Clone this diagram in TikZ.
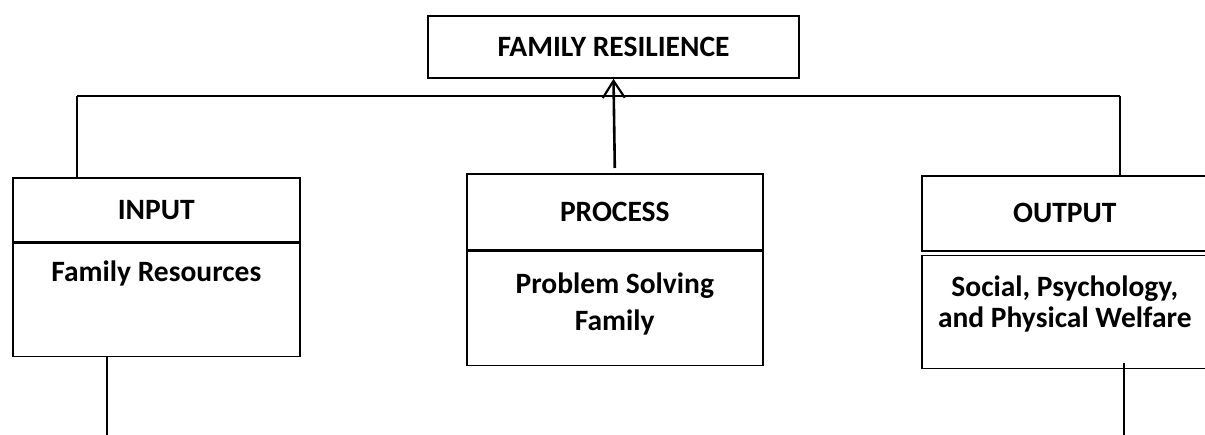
\documentclass[tikz,border=0pt]{standalone}
\usepackage{fontspec}
\setmainfont{Carlito}
\usetikzlibrary{arrows.meta,positioning,calc}
\tikzset{
  boxfont/.style={font=\bfseries\fontsize{29.5}{31}\selectfont},
  topbox/.style={draw, line width=1.6pt, boxfont, minimum width=371pt, minimum height=62pt},
  headbox/.style={draw, line width=1.6pt, boxfont, anchor=north west},
  bodybox/.style={draw, line width=1.6pt, anchor=north, minimum height=113pt},
  bodytext/.style={anchor=north, inner sep=0pt, align=center, boxfont},
  link/.style={line width=1.1pt},
  arrow/.style={-{Straight Barb[length=17pt,width=22pt,line width=2.2pt]}, line width=2.6pt}
}
\begin{document}
\begin{tikzpicture}[x=1pt, y=-1pt]
  \clip (0,0) rectangle (1205,435);
  \node[topbox] (resil) at (613.5,47) {FAMILY RESILIENCE};

  % input, process, output
  \node[headbox, minimum width=287pt, minimum height=64pt] (inhead) at (12,177) {INPUT};
  \node[bodybox, minimum width=287pt, below=0pt of inhead,
        label={[bodytext, yshift=-18pt]north:Family Resources}] (inbody) {};
  \node[headbox, minimum width=296pt, minimum height=76pt] (prochead) at (466,173) {PROCESS};
  \node[bodybox, minimum width=296pt, minimum height=114pt, below=0pt of prochead,
        label={[bodytext, yshift=-22pt, font=\bfseries\fontsize{29.5}{37}\selectfont]north:Problem Solving\\Family}] (procbody) {};
  \node[headbox, minimum width=286pt, minimum height=75pt] (outhead) at (921,175) {OUTPUT};
  \node[bodybox, minimum width=286pt, below=3pt of outhead,
        label={[bodytext, yshift=-21pt]north:Social, Psychology,\\and Physical Welfare}] (outbody) {};

  \coordinate (busL) at (77,96);
  \coordinate (busR) at (1120,96);
  \coordinate (inend) at (107,435);
  \coordinate (outend) at (1124,435);

  \draw[link] (busL) -- (busR);
  \draw[link] (busL) -- (busL |- inhead.north);
  \draw[link] (busR) -- (busR |- outhead.north);
  \draw[link] (inbody.south -| inend) -- (inend);
  \draw[link] ([yshift=6pt]outbody.south -| outend) -- (outend);
  \draw[arrow] ([yshift=5pt]prochead.north) -- (resil.south);
\end{tikzpicture}
\end{document}
